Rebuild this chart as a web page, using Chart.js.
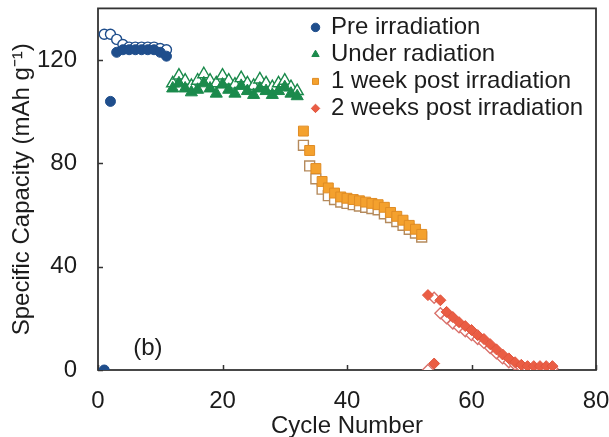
<!DOCTYPE html>
<html>
<head>
<meta charset="utf-8">
<script src="https://cdn.jsdelivr.net/npm/chart.js@4.4.1/dist/chart.umd.min.js"></script>
<style>
  html, body { margin: 0; padding: 0; background: #fff; }
  canvas { display: block; }
</style>
</head>
<body>
<canvas id="capacityChart" width="609" height="437"></canvas>
<script>
// Data (cycle number vs specific capacity, mAh/g)
const preCycles = [1, 2, 3, 4, 5, 6, 7, 8, 9, 10, 11];
const preFilled = [0, 104, 123, 124, 124, 124, 124, 124, 124, 123, 121.5];
const preHollow = [130, 130, 128, 126, 125, 125, 125, 125, 125, 124.5, 124];

const underCycles = [12, 13, 14, 15, 16, 17, 18, 19, 20, 21, 22, 23, 24, 25, 26, 27, 28, 29, 30, 31, 32];
const underFilled = [109, 111, 109, 107.5, 108.5, 111, 109, 107, 110.5, 108.5, 107, 110, 108, 106.5, 109, 108, 106.5, 108, 109.5, 107, 106];
const underHollow = [111, 114, 112, 110, 112, 114.5, 112, 111, 114, 112, 110.5, 113, 111, 110, 112.5, 111, 109.5, 111, 112, 109.5, 108];

const weekCycles = [33, 34, 35, 36, 37, 38, 39, 40, 41, 42, 43, 44, 45, 46, 47, 48, 49, 50, 51, 52];
const weekFilled = [92.5, 85, 78, 73, 70.5, 68.5, 67, 66.5, 66, 65.5, 65, 64.5, 64, 63, 61, 59.5, 58, 56, 54.5, 52.5];
const weekHollow = [87, 79, 74, 70, 67.5, 66, 65, 64.5, 64, 63.5, 63, 62.5, 62, 60.5, 59, 57.5, 56, 54.5, 53, 51.5];

const twoCycles = [53, 54, 55, 56, 57, 58, 59, 60, 61, 62, 63, 64, 65, 66, 67, 68, 69, 70, 71, 72, 73];
const twoFilled = [29, 2.5, 27, 22.5, 20.5, 18.5, 17, 15.5, 13.5, 12, 10, 8, 6, 4.5, 3, 2, 1.5, 1.5, 1.5, 1.5, 1.5];
const twoHollow = [0, 28, 22, 20, 18, 16.5, 15, 13.5, 12, 10.5, 8.5, 6.5, 4.5, 3, 2, 1, 0.5, 0.5, 0.5, 0.5, 0.5];

const seriesNames = ['Pre irradiation', 'Under radiation', '1 week post irradiation', '2 weeks post irradiation'];
const xLabels = [0, 20, 40, 60, 80];
const yLabels = [0, 40, 80, 120];

const FONT = "'Liberation Sans', Arial, sans-serif";
const INK = '#1c1c1c';
const AXIS = '#333333';

const pts = (xs, ys) => xs.map((x, i) => ({ x: x, y: ys[i] }));

// filled markers first so they sit on top of the hollow ones
const datasets = [
  { label: seriesNames[0], data: pts(preCycles, preFilled), pointStyle: 'circle', pointRadius: 5,
    backgroundColor: '#1f4e8c', borderColor: '#1f4e8c', borderWidth: 1 },
  { label: seriesNames[1], data: pts(underCycles, underFilled), pointStyle: 'triangle', pointRadius: 7,
    backgroundColor: '#1b8a4c', borderColor: '#1b8a4c', borderWidth: 1 },
  { label: seriesNames[2], data: pts(weekCycles, weekFilled), pointStyle: 'rect', pointRadius: 7,
    backgroundColor: '#f4a12e', borderColor: '#e08c24', borderWidth: 1 },
  { label: seriesNames[3], data: pts(twoCycles, twoFilled), pointStyle: 'rectRot', pointRadius: 5.5,
    backgroundColor: '#ea5d44', borderColor: '#e0543c', borderWidth: 1 },
  { label: seriesNames[0] + ' (charge)', hollow: true, data: pts(preCycles, preHollow), pointStyle: 'circle', pointRadius: 5,
    backgroundColor: '#ffffff', borderColor: '#1f4e8c', borderWidth: 1.4 },
  { label: seriesNames[1] + ' (charge)', hollow: true, data: pts(underCycles, underHollow), pointStyle: 'triangle', pointRadius: 7,
    backgroundColor: '#ffffff', borderColor: '#1b8a4c', borderWidth: 1.4 },
  { label: seriesNames[2] + ' (charge)', hollow: true, data: pts(weekCycles, weekHollow), pointStyle: 'rect', pointRadius: 7,
    backgroundColor: '#ffffff', borderColor: '#b58a5c', borderWidth: 1.4 },
  { label: seriesNames[3] + ' (charge)', hollow: true, data: pts(twoCycles, twoHollow), pointStyle: 'rectRot', pointRadius: 5.5,
    backgroundColor: '#ffffff', borderColor: '#d9706a', borderWidth: 1.4 }
];

// box round the plot, inward ticks on left and bottom, and the panel tag
const frame = {
  id: 'frame',
  beforeDatasetsDraw(chart) {
    const { ctx, chartArea: a, scales: { x, y } } = chart;
    ctx.save();
    ctx.strokeStyle = AXIS;
    ctx.lineWidth = 1.8;
    ctx.strokeRect(a.left, a.top, a.right - a.left, a.bottom - a.top);
    ctx.beginPath();
    ctx.lineWidth = 1.5;
    y.ticks.forEach(t => {
      const py = Math.round(y.getPixelForValue(t.value)) + 0.5;
      ctx.moveTo(a.left, py); ctx.lineTo(a.left + 5, py);
    });
    x.ticks.forEach(t => {
      const px = Math.round(x.getPixelForValue(t.value)) + 0.5;
      ctx.moveTo(px, a.bottom); ctx.lineTo(px, a.bottom - 5);
    });
    ctx.stroke();
    ctx.fillStyle = INK;
    ctx.font = '24px ' + FONT;
    ctx.textAlign = 'center';
    ctx.textBaseline = 'middle';
    ctx.fillText('(b)', x.getPixelForValue(8), y.getPixelForValue(8.5));
    ctx.restore();
  }
};

// move the legend into the upper right of the plot
const legendSpot = {
  id: 'legendSpot',
  afterLayout(chart) {
    const lg = chart.legend, a = chart.chartArea;
    lg.left = a.left + 211;
    lg.top = a.top + 4;
    lg.right = lg.left + lg.width;
    lg.bottom = lg.top + lg.height;
  }
};

new Chart(document.getElementById('capacityChart'), {
  type: 'scatter',
  data: { datasets },
  options: {
    responsive: false,
    animation: false,
    layout: { padding: { top: 7, left: 0, right: 13, bottom: 0 } },
    plugins: {
      tooltip: { enabled: false },
      legend: {
        position: 'chartArea',
        align: 'start',
        labels: {
          usePointStyle: true,
          boxWidth: 7,
          boxHeight: 6,
          padding: 3,
          color: INK,
          font: { family: FONT, size: 24 },
          filter: (item, data) => !data.datasets[item.datasetIndex].hollow
        }
      }
    },
    scales: {
      x: {
        type: 'linear',
        min: 0, max: 80,
        border: { display: false },
        grid: { display: false, drawTicks: false },
        ticks: {
          stepSize: 4,
          padding: 17,
          color: INK,
          font: { family: FONT, size: 24 },
          callback: v => xLabels.includes(v) ? String(v) : null
        },
        title: { display: true, text: 'Cycle Number', color: INK, font: { family: FONT, size: 24 }, padding: { top: 0, bottom: -4 } },
        afterFit: s => { s.height = 67; s.paddingLeft = 0; s.paddingRight = 0; }
      },
      y: {
        type: 'linear',
        min: 0, max: 140,
        border: { display: false },
        grid: { display: false, drawTicks: false },
        ticks: {
          stepSize: 8,
          padding: 21,
          color: INK,
          font: { family: FONT, size: 24 },
          callback: v => yLabels.includes(v) ? String(v) : null
        },
        title: { display: true, text: 'Specific Capacity (mAh g\u207B\u00B9)', color: INK, font: { family: FONT, size: 24 }, padding: { top: 8, bottom: 0 } },
        afterFit: s => { s.width = 98; s.paddingTop = 0; s.paddingBottom = 0; }
      }
    }
  },
  plugins: [frame, legendSpot]
});
</script>
</body>
</html>
